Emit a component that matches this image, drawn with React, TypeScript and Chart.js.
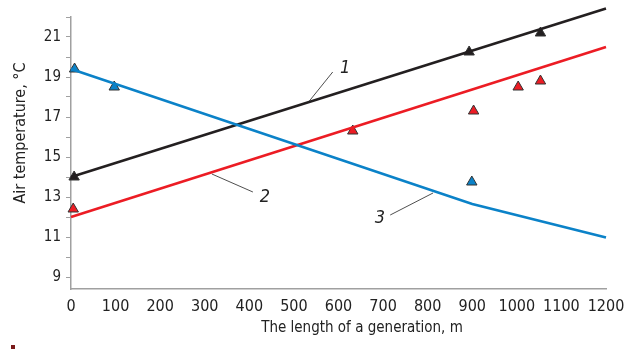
import React, { useEffect, useRef } from "react";
import { Chart, registerables } from "chart.js";

Chart.register(...registerables);

// ---- data ----
const xTicks = [0, 100, 200, 300, 400, 500, 600, 700, 800, 900, 1000, 1100, 1200];
const yTicks = [9, 10, 11, 12, 13, 14, 15, 16, 17, 18, 19, 20, 21, 22];
const yLabelled = [9, 11, 13, 15, 17, 19, 21];

// trend lines (1 black, 2 red, 3 blue)
const line1X = [0, 1200];
const line1Y = [14.0, 22.43];
const line2X = [0, 1200];
const line2Y = [12.0, 20.5];
const line3X = [0, 900, 1200];
const line3Y = [19.4, 12.65, 10.97];

// observed points
const obs1X = [7, 893, 1053];
const obs1Y = [14.0, 20.25, 21.2];
const obs2X = [5, 632, 903, 1003, 1053];
const obs2Y = [12.4, 16.3, 17.3, 18.5, 18.8];
const obs3X = [8, 97, 899];
const obs3Y = [19.4, 18.5, 13.75];

// callout labels: text, leader start (x,y), leader end (x,y), text position (x,y)
const calloutText = ["1", "2", "3"];
const calloutFromX = [531, 316, 812];
const calloutFromY = [17.7, 14.15, 13.2];
const calloutToX = [587, 408, 716];
const calloutToY = [19.25, 13.25, 12.1];
const calloutTextX = [615, 435, 693];
const calloutTextY = [19.45, 13.0, 11.95];

const xTitle = "The length of a generation, m";
const yTitle = "Air temperature, °C";

const BLACK = "#231f20";
const RED = "#ec1c24";
const BLUE = "#0b82c8";
const AXIS = "#a0a0a0";
const FONT = '"DejaVu Sans Condensed", "Liberation Sans Narrow", sans-serif';

const pts = (xs: number[], ys: number[]) => xs.map((x, i) => ({ x, y: ys[i] }));

const annotations = {
  id: "annotations",
  afterDatasetsDraw(chart: any) {
    const { ctx, scales, chartArea } = chart;
    const xs = scales.x;
    const ys = scales.y;
    ctx.save();
    ctx.strokeStyle = "#222";
    ctx.lineWidth = 0.8;
    ctx.fillStyle = "#222";
    ctx.font = `italic 18px ${FONT}`;
    ctx.textAlign = "center";
    ctx.textBaseline = "middle";
    for (let i = 0; i < calloutText.length; i++) {
      ctx.beginPath();
      ctx.moveTo(xs.getPixelForValue(calloutFromX[i]), ys.getPixelForValue(calloutFromY[i]));
      ctx.lineTo(xs.getPixelForValue(calloutToX[i]), ys.getPixelForValue(calloutToY[i]));
      ctx.stroke();
      ctx.fillText(
        calloutText[i],
        xs.getPixelForValue(calloutTextX[i]),
        ys.getPixelForValue(calloutTextY[i])
      );
    }
    // axis titles
    ctx.font = `15px ${FONT}`;
    ctx.fillStyle = "#222";
    ctx.textAlign = "center";
    ctx.textBaseline = "middle";
    ctx.fillText(xTitle, chartArea.left + 291, chartArea.bottom + 39);
    ctx.save();
    ctx.translate(21, chartArea.top + 116);
    ctx.rotate(-Math.PI / 2);
    ctx.font = `16px ${FONT}`;
    ctx.fillText(yTitle, 0, 0);
    ctx.restore();
    ctx.restore();
  },
};

export default function App() {
  const ref = useRef<HTMLCanvasElement>(null);
  useEffect(() => {
    if (!ref.current) return;
    const lineDs = (data: any, color: string) => ({
      type: "line" as const,
      data,
      borderColor: color,
      borderWidth: 2.6,
      pointRadius: 0,
      showLine: true,
      tension: 0,
      fill: false,
      clip: false,
    });
    const ptDs = (data: any, color: string) => ({
      type: "scatter" as const,
      data,
      backgroundColor: color,
      borderColor: "#333",
      borderWidth: 1,
      pointStyle: "triangle",
      pointRadius: 6,
      showLine: false,
      clip: false,
    });
    const chart = new Chart(ref.current, {
      type: "scatter",
      data: {
        datasets: [
          lineDs(pts(line3X, line3Y), BLUE),
          lineDs(pts(line2X, line2Y), RED),
          lineDs(pts(line1X, line1Y), BLACK),
          ptDs(pts(obs1X, obs1Y), BLACK),
          ptDs(pts(obs2X, obs2Y), RED),
          ptDs(pts(obs3X, obs3Y), BLUE),
        ] as any,
      },
      plugins: [annotations],
      options: {
        animation: false,
        responsive: false,
        layout: { padding: { left: 0, right: 30, top: 17, bottom: 0 } },
        plugins: { legend: { display: false }, tooltip: { enabled: false } },
        scales: {
          x: {
            type: "linear",
            min: 0,
            max: 1200,
            afterBuildTicks: (s: any) => {
              s.ticks = xTicks.map((v) => ({ value: v }));
            },
            afterFit: (s: any) => {
              s.height = 60;
            },
            grid: { drawOnChartArea: false, drawTicks: false },
            border: { color: AXIS, width: 1.5 },
            ticks: {
              autoSkip: false,
              maxRotation: 0,
              padding: 8,
              color: "#222",
              font: { family: FONT, size: 16 },
              callback: (v: any) => String(v),
            },
          },
          y: {
            type: "linear",
            min: 8.4,
            max: 22,
            afterBuildTicks: (s: any) => {
              s.ticks = yTicks.map((v) => ({ value: v }));
            },
            afterFit: (s: any) => {
              s.width = 71;
            },
            grid: { drawOnChartArea: false, drawTicks: true, tickLength: 5, color: AXIS },
            border: { color: AXIS, width: 1.5 },
            ticks: {
              autoSkip: false,
              padding: 5,
              color: "#222",
              font: { family: FONT, size: 15 },
              callback: (v: any) => (yLabelled.includes(Number(v)) ? String(v) : ""),
            },
          },
        },
      },
    });
    return () => chart.destroy();
  }, []);
  return (
    <div style={{ position: "fixed", left: 0, top: 0, width: 636, height: 349, background: "#fff" }}>
      <canvas ref={ref} width={636} height={349} style={{ display: "block" }} />
      <div style={{ position: "absolute", left: 11, top: 345, width: 4, height: 4, background: "#7a1a1a" }} />
    </div>
  );
}
